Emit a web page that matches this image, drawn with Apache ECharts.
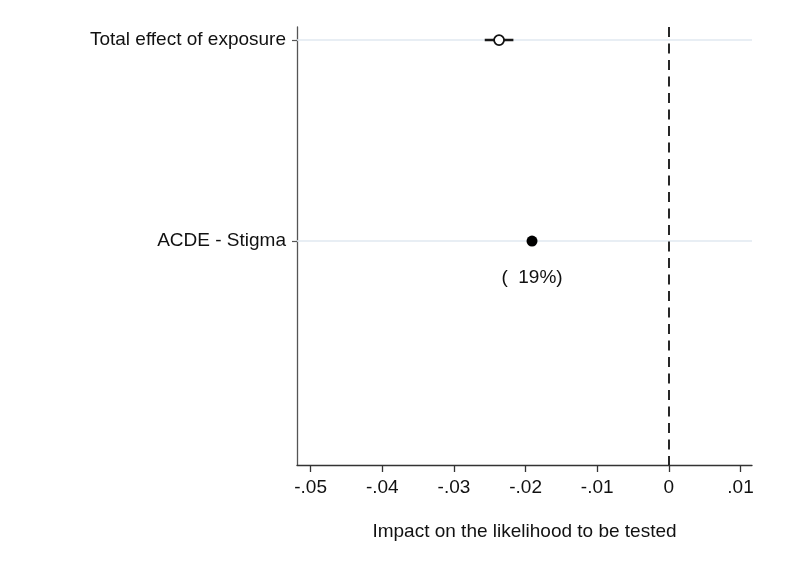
<!DOCTYPE html>
<html><head><meta charset="utf-8">
<script src="https://cdn.jsdelivr.net/npm/echarts@6/dist/echarts.min.js"></script>
<style>html,body{margin:0;padding:0;background:#fff}#c{width:790px;height:578px}</style>
</head><body><div id="c"></div>
<script>
const categories = ['Total effect of exposure', 'ACDE - Stigma'];
const rowPos = [1, 2];
const estimates = [-0.0237, -0.0191];
const ciLow = [-0.0257, null];
const ciHigh = [-0.0217, null];
const hollow = [true, false];
const pctLabels = ['', '(  19%)'];
const xTicks = [-0.05, -0.04, -0.03, -0.02, -0.01, 0, 0.01];
const xTitle = 'Impact on the likelihood to be tested';

const FONT = 'Liberation Sans, Arial, Helvetica, sans-serif';
const FS = 19;
function fmt(v){
  const r = Math.round(v*100)/100;
  if (r === 0) return '0';
  return String(r).replace('0.', '.');
}
const ciSeries = [];
categories.forEach((c,i)=>{
  if(ciLow[i]!==null) ciSeries.push({
    type:'line', z:3, silent:true, symbol:'none', showSymbol:false,
    data:[[ciLow[i], rowPos[i]], [ciHigh[i], rowPos[i]]],
    lineStyle:{color:'#1a1a1a', width:2.5, opacity:1}
  });
});
const chart = echarts.init(document.getElementById('c'), null, {renderer:'canvas'});
chart.setOption({
  backgroundColor:'#fff',
  animation:false,
  grid:{left:297, right:38, top:27, bottom:113},
  xAxis:{
    type:'value', min:-0.0519, max:0.0116,
    name:xTitle, nameLocation:'middle', nameGap:57,
    nameTextStyle:{fontFamily:FONT, fontSize:FS, color:'#111'},
    axisLine:{show:true, onZero:false, lineStyle:{color:'#333', width:1.3}},
    axisTick:{show:true, length:7, customValues:xTicks, lineStyle:{color:'#333', width:1.3}},
    axisLabel:{customValues:xTicks, formatter:fmt, fontFamily:FONT, fontSize:FS, color:'#111', margin:13},
    splitLine:{show:false}
  },
  yAxis:{
    type:'value', inverse:true, min:0.935, max:3.114,
    axisLine:{show:true, onZero:false, lineStyle:{color:'#555', width:1.3}},
    axisTick:{show:true, length:5, customValues:rowPos, lineStyle:{color:'#555', width:1.2}},
    axisLabel:{customValues:rowPos, formatter:v=>categories[rowPos.indexOf(Math.round(v))]||'', fontFamily:FONT, fontSize:FS, color:'#111', margin:11},
    splitLine:{show:false}
  },
  series:[
    {
      type:'line', data:[], silent:true, z:1,
      markLine:{
        silent:true, symbol:'none', label:{show:false}, z:1,
        data: rowPos.map(p=>({yAxis:p, lineStyle:{color:'#e0e9f1', width:1.5, type:'solid'}}))
      }
    },
    {
      type:'line', data:[], silent:true, z:2,
      markLine:{
        silent:true, symbol:'none', label:{show:false}, z:2,
        data: [{xAxis:0, lineStyle:{color:'#111', width:1.8, type:[10,6.5]}}]
      }
    }
  ].concat(ciSeries).concat([
    {
      type:'scatter', z:5,
      data: estimates.map((e,i)=>({
        value:[e, rowPos[i]],
        symbolSize: hollow[i] ? 10 : 11,
        itemStyle: hollow[i] ? {color:'#fff', borderColor:'#111', borderWidth:1.8, opacity:1} : {color:'#000', borderColor:'#000', borderWidth:0, opacity:1},
        label:{show: pctLabels[i] !== '', formatter: pctLabels[i], position:'bottom', distance:22, fontFamily:FONT, fontSize:FS, color:'#111'}
      }))
    }
  ])
});
</script></body></html>
